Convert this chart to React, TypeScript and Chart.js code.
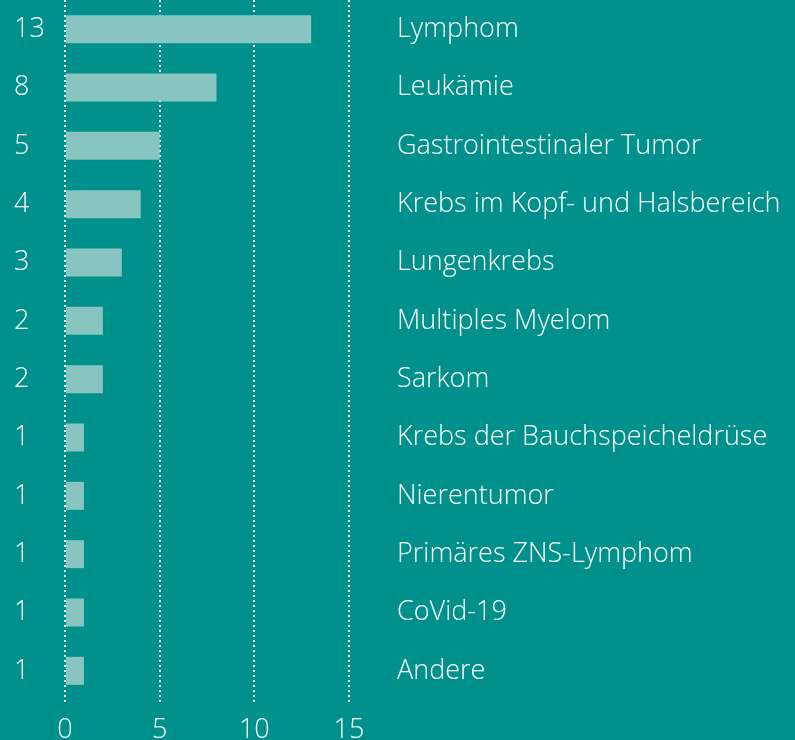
import React, { useEffect, useRef } from "react";
import { Chart, registerables } from "chart.js";

Chart.register(...registerables);

const categories = [
  "Lymphom",
  "Leukämie",
  "Gastrointestinaler Tumor",
  "Krebs im Kopf- und Halsbereich",
  "Lungenkrebs",
  "Multiples Myelom",
  "Sarkom",
  "Krebs der Bauchspeicheldrüse",
  "Nierentumor",
  "Primäres ZNS-Lymphom",
  "CoVid-19",
  "Andere",
];
const counts = [13, 8, 5, 4, 3, 2, 2, 1, 1, 1, 1, 1];
const xTicks = [0, 5, 10, 15];

const BG = "#00918C";
const BAR = "#88C4C0";
const FONT = "'Open Sans', 'DejaVu Sans', sans-serif";
const FSIZE = 27;

export default function App() {
  const ref = useRef<HTMLCanvasElement | null>(null);

  useEffect(() => {
    document.body.style.margin = "0";
    document.body.style.background = BG;
    const ctx = ref.current!.getContext("2d")!;
    const chart = new Chart(ctx, {
      type: "bar",
      data: {
        labels: counts.map(String),
        datasets: [
          {
            data: counts,
            backgroundColor: BAR,
            borderWidth: 0,
            barPercentage: 0.48,
            categoryPercentage: 1,
            yAxisID: "y",
          },
        ],
      },
      options: {
        indexAxis: "y",
        responsive: false,
        animation: false,
        layout: { padding: { left: 14, top: 0, right: 0, bottom: 0 } },
        plugins: { legend: { display: false }, tooltip: { enabled: false } },
        scales: {
          x: {
            type: "linear",
            min: 0,
            max: 15,
            position: "bottom",
            z: 1,
            afterBuildTicks: (s: any) => {
              s.ticks = xTicks.map((v) => ({ value: v }));
            },
            afterFit: (s: any) => {
              s.height = 40;
              s.paddingLeft = 0;
              s.paddingRight = 0;
            },
            grid: {
              color: "#ffffff",
              lineWidth: 2,
              drawTicks: true,
              tickLength: 4,
              tickBorderDash: [2, 3],
            },
            border: { display: false, dash: [2, 3] },
            ticks: {
              color: "#ffffff",
              padding: 10,
              font: { family: FONT, size: FSIZE, weight: "300" },
            },
          },
          y: {
            type: "category",
            position: "left",
            offset: true,
            labels: counts.map(String),
            afterFit: (s: any) => {
              s.width = 51;
              s.paddingTop = 0;
              s.paddingBottom = 0;
            },
            grid: { display: false, drawTicks: false },
            border: { display: false },
            ticks: {
              crossAlign: "far",
              color: "#ffffff",
              font: { family: FONT, size: FSIZE, weight: "300" },
            },
          },
          y2: {
            type: "category",
            position: "right",
            offset: true,
            labels: categories,
            afterFit: (s: any) => {
              s.width = 795 - 349;
              s.paddingTop = 0;
              s.paddingBottom = 0;
            },
            grid: { display: false, drawTicks: false },
            border: { display: false },
            ticks: {
              crossAlign: "near",
              padding: 48,
              color: "#ffffff",
              font: { family: FONT, size: FSIZE, weight: "300" },
            },
          },
        },
      } as any,
    });
    return () => chart.destroy();
  }, []);

  return (
    <div style={{ position: "fixed", left: 0, top: 0, width: 795, height: 740, background: BG }}>
      <canvas ref={ref} width={795} height={740} style={{ display: "block" }} />
    </div>
  );
}
